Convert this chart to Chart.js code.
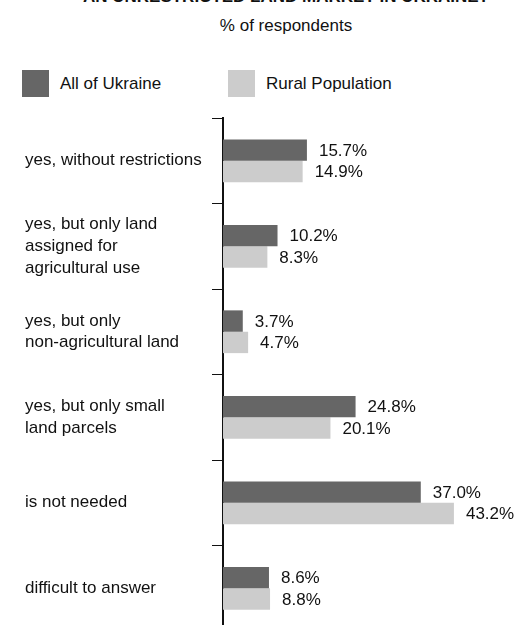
<!DOCTYPE html>
<html>
<head>
<meta charset="utf-8">
<title>Unrestricted land market in Ukraine</title>
<script src="https://cdn.jsdelivr.net/npm/chart.js@4.4.1/dist/chart.umd.min.js"></script>
<style>
    html, body {
        margin: 0;
        padding: 0;
        background: #fff;
    }
    body {
        position: relative;
        width: 517px;
        height: 625px;
        overflow: hidden;
        font-family: "Liberation Sans", Arial, Helvetica, sans-serif;
        color: #111;
    }
    .chart-title, .chart-subtitle {
        position: absolute;
        left: 55px;
        width: 462px;
        text-align: center;
        white-space: nowrap;
        font-size: 17px;
        line-height: 20px;
    }
    .chart-title { top: -13px; font-weight: bold; }
    .chart-subtitle { top: 16px; }
    #legend {
        position: absolute;
        top: 70px;
        left: 22px;
    }
    .legend-item {
        position: absolute;
        top: 0;
        display: flex;
        align-items: center;
        height: 27px;
        font-size: 17px;
        white-space: nowrap;
    }
    .legend-swatch {
        width: 27px;
        height: 27px;
        margin-right: 11px;
    }
    #chartBox {
        position: absolute;
        top: 100px;
        left: 0;
        width: 517px;
        height: 545px;
    }
</style>
</head>
<body>

<div class="chart-title">AN UNRESTRICTED LAND MARKET IN UKRAINE?</div>
<div class="chart-subtitle">% of respondents</div>
<div id="legend"></div>
<div id="chartBox"><canvas id="landChart"></canvas></div>

<script>
// ============================================
// Data
// ============================================

const categories = [
    ['yes, without restrictions'],
    ['yes, but only land', 'assigned for', 'agricultural use'],
    ['yes, but only', 'non-agricultural land'],
    ['yes, but only small', 'land parcels'],
    ['is not needed'],
    ['difficult to answer']
];

const seriesNames = ['All of Ukraine', 'Rural Population'];
const allUkraine = [15.7, 10.2, 3.7, 24.8, 37.0, 8.6];
const ruralPopulation = [14.9, 8.3, 4.7, 20.1, 43.2, 8.8];

const seriesColors = ['#666666', '#cccccc'];
const fontFamily = '"Liberation Sans", Arial, Helvetica, sans-serif';

// ============================================
// Value labels at the end of every bar
// ============================================

const valueLabels = {
    id: 'valueLabels',
    afterDatasetsDraw(chart) {
        const ctx = chart.ctx;
        ctx.save();
        ctx.font = '17px ' + fontFamily;
        ctx.fillStyle = '#111';
        ctx.textAlign = 'left';
        ctx.textBaseline = 'middle';
        chart.data.datasets.forEach((ds, i) => {
            chart.getDatasetMeta(i).data.forEach((bar, j) => {
                ctx.fillText(ds.data[j].toFixed(1) + '%', bar.x + 12, bar.y + 1);
            });
        });
        ctx.restore();
    }
};

// ============================================
// Chart
// ============================================

Chart.defaults.font.family = fontFamily;
Chart.defaults.color = '#111';

const landChart = new Chart(document.getElementById('landChart'), {
    type: 'bar',
    data: {
        labels: categories,
        datasets: [
            { label: seriesNames[0], data: allUkraine, backgroundColor: seriesColors[0] },
            { label: seriesNames[1], data: ruralPopulation, backgroundColor: seriesColors[1] }
        ]
    },
    options: {
        indexAxis: 'y',
        responsive: true,
        maintainAspectRatio: false,
        animation: false,
        events: [],
        layout: { padding: { top: 18, left: 25, right: 0, bottom: 14 } },
        datasets: {
            bar: { categoryPercentage: 0.5, barPercentage: 1.0, borderWidth: 0 }
        },
        plugins: {
            legend: { display: false },
            tooltip: { enabled: false }
        },
        scales: {
            x: { display: false, min: 0, max: 55 },
            y: {
                afterFit: (scale) => { scale.width = 198; },
                grid: {
                    drawOnChartArea: false,
                    drawTicks: true,
                    tickLength: 11,
                    color: '#111',
                    lineWidth: 1,
                    offset: true
                },
                border: { display: true, color: '#111', width: 2 },
                ticks: {
                    crossAlign: 'far',
                    padding: 0,
                    color: '#111',
                    font: { size: 17, lineHeight: 1.27 }
                }
            }
        }
    },
    plugins: [valueLabels]
});

// ============================================
// Legend built from the datasets
// ============================================

const legendEl = document.getElementById('legend');
landChart.data.datasets.forEach((ds, i) => {
    const item = document.createElement('div');
    item.className = 'legend-item';
    item.style.left = (i * 206) + 'px';
    const swatch = document.createElement('span');
    swatch.className = 'legend-swatch';
    swatch.style.background = ds.backgroundColor;
    const text = document.createElement('span');
    text.textContent = ds.label;
    item.appendChild(swatch);
    item.appendChild(text);
    legendEl.appendChild(item);
});
</script>
</body>
</html>
